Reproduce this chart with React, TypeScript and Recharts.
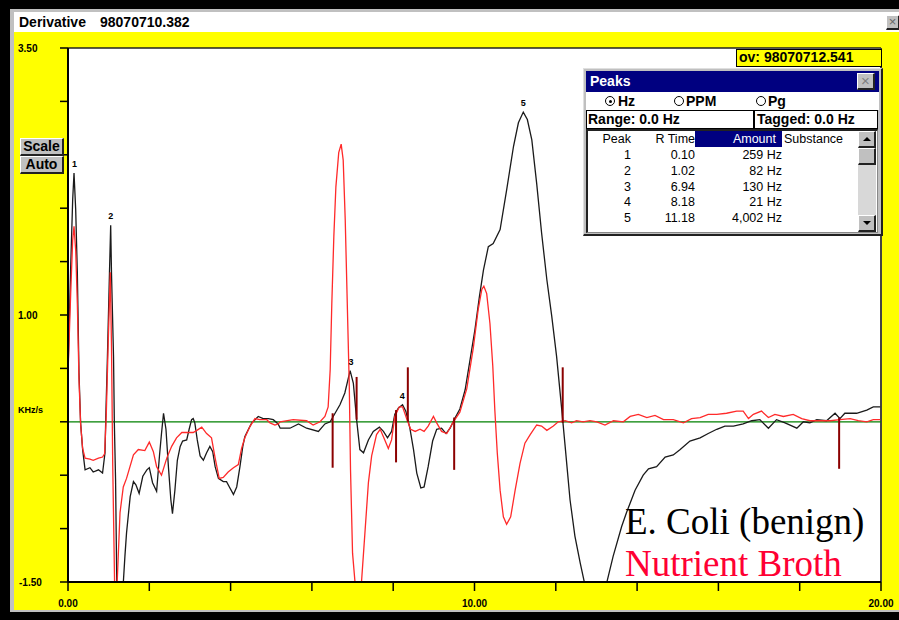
import React from 'react';
import { ComposedChart, Line, XAxis, YAxis, ReferenceLine, ReferenceDot } from 'recharts';

// ---- data ----
const ecoliX = [0, 0.066, 0.115, 0.148, 0.189, 0.23, 0.27, 0.31, 0.36, 0.42, 0.54, 0.62, 0.75, 0.85, 0.91, 0.93, 0.97, 1.02, 1.05, 1.07, 1.12, 1.14, 1.17, 1.2, 1.28, 1.36, 1.4, 1.44, 1.53, 1.61, 1.67, 1.75, 1.84, 1.94, 2.0, 2.08, 2.18, 2.25, 2.3, 2.35, 2.41, 2.47, 2.53, 2.57, 2.63, 2.69, 2.76, 2.82, 2.92, 2.98, 3.04, 3.08, 3.12, 3.18, 3.25, 3.33, 3.41, 3.49, 3.56, 3.62, 3.7, 3.82, 3.9, 3.97, 4.07, 4.15, 4.23, 4.3, 4.35, 4.44, 4.52, 4.6, 4.68, 4.8, 4.93, 5.05, 5.17, 5.22, 5.46, 5.67, 5.87, 6.16, 6.32, 6.45, 6.57, 6.69, 6.81, 6.94, 7.02, 7.1, 7.18, 7.27, 7.39, 7.51, 7.66, 7.76, 7.86, 7.96, 8.04, 8.13, 8.23, 8.31, 8.41, 8.5, 8.58, 8.68, 8.76, 8.86, 8.97, 9.07, 9.19, 9.3, 9.4, 9.5, 9.64, 9.77, 9.89, 10.01, 10.12, 10.22, 10.34, 10.46, 10.63, 10.79, 10.96, 11.08, 11.2, 11.3, 11.41, 11.53, 11.65, 11.78, 11.9, 12.02, 12.14, 12.23, 12.35, 12.47, 12.6, 12.69, 12.97, 13.27, 13.41, 13.62, 13.74, 13.83, 13.95, 14.15, 14.28, 14.48, 14.69, 14.89, 15.06, 15.3, 15.55, 15.75, 15.96, 16.16, 16.37, 16.61, 16.82, 17.02, 17.23, 17.43, 17.64, 17.93, 18.09, 18.25, 18.42, 18.66, 18.87, 18.99, 19.11, 19.4, 19.65, 19.81, 19.98];
const ecoliY = [0.46, 1.45, 2.08, 2.33, 1.99, 1.39, 0.46, -0.01, -0.26, -0.45, -0.43, -0.47, -0.45, -0.48, -0.29, 0.05, 0.61, 1.39, 1.84, 1.39, 0.61, -0.01, -0.54, -1.51, -2.0, -1.51, -1.26, -1.04, -0.7, -0.56, -0.59, -0.67, -0.51, -0.45, -0.43, -0.57, -0.65, -0.32, -0.11, 0.08, -0.07, -0.42, -0.73, -0.86, -0.64, -0.36, -0.23, -0.18, -0.17, -0.07, 0.02, 0.03, -0.01, -0.17, -0.32, -0.36, -0.29, -0.23, -0.28, -0.42, -0.53, -0.56, -0.56, -0.61, -0.68, -0.61, -0.42, -0.23, -0.14, -0.07, -0.01, 0.02, 0.05, 0.03, 0.03, 0.02, -0.02, -0.06, -0.06, -0.02, -0.06, -0.09, -0.02, 0.0, 0.08, 0.16, 0.27, 0.48, 0.36, 0.02, -0.26, -0.29, -0.17, -0.09, -0.05, -0.09, -0.15, -0.09, 0.07, 0.13, 0.16, 0.1, -0.06, -0.26, -0.48, -0.62, -0.61, -0.42, -0.18, -0.07, -0.06, -0.11, -0.06, 0.02, 0.12, 0.3, 0.58, 0.86, 1.17, 1.42, 1.64, 1.67, 1.8, 2.17, 2.58, 2.8, 2.9, 2.83, 2.64, 2.23, 1.77, 1.33, 0.99, 0.61, 0.14, -0.23, -0.73, -1.07, -1.32, -1.48, -1.95, -1.48, -1.26, -0.98, -0.85, -0.76, -0.64, -0.5, -0.44, -0.42, -0.33, -0.31, -0.26, -0.18, -0.15, -0.11, -0.07, -0.04, -0.04, -0.02, 0.01, 0.02, -0.06, 0.02, -0.01, -0.06, 0.0, -0.01, 0.02, 0.01, 0.08, 0.03, 0.08, 0.08, 0.11, 0.14, 0.14];

const brothX = [0, 0.066, 0.115, 0.148, 0.19, 0.23, 0.27, 0.31, 0.36, 0.42, 0.54, 0.62, 0.75, 0.85, 0.9, 0.94, 0.99, 1.04, 1.07, 1.1, 1.15, 1.21, 1.28, 1.36, 1.44, 1.61, 1.73, 1.89, 2.0, 2.1, 2.18, 2.3, 2.43, 2.55, 2.67, 2.8, 2.96, 3.08, 3.17, 3.29, 3.41, 3.53, 3.62, 3.72, 3.82, 3.94, 4.07, 4.19, 4.27, 4.35, 4.48, 4.6, 4.72, 4.89, 4.97, 5.09, 5.17, 5.22, 5.54, 5.87, 6.03, 6.2, 6.32, 6.4, 6.45, 6.49, 6.54, 6.59, 6.66, 6.72, 6.77, 6.82, 6.87, 6.92, 6.95, 7.0, 7.06, 7.14, 7.22, 7.31, 7.39, 7.47, 7.59, 7.68, 7.77, 7.88, 7.96, 8.04, 8.15, 8.23, 8.33, 8.43, 8.54, 8.66, 8.76, 8.86, 8.99, 9.07, 9.19, 9.32, 9.48, 9.64, 9.81, 9.97, 10.09, 10.18, 10.23, 10.3, 10.38, 10.45, 10.5, 10.56, 10.63, 10.71, 10.79, 10.89, 11.0, 11.12, 11.24, 11.37, 11.53, 11.65, 11.78, 11.94, 12.06, 12.23, 12.39, 12.51, 12.67, 12.84, 13.01, 13.21, 13.42, 13.66, 13.83, 14.03, 14.24, 14.44, 14.65, 14.89, 15.14, 15.34, 15.55, 15.75, 15.96, 16.2, 16.45, 16.61, 16.74, 16.86, 17.06, 17.23, 17.39, 17.6, 17.84, 18.05, 18.25, 18.5, 18.75, 18.99, 19.24, 19.44, 19.65, 19.81, 19.98];
const brothY = [0.45, 1.2, 1.7, 1.83, 1.6, 1.1, 0.4, -0.02, -0.25, -0.34, -0.35, -0.36, -0.34, -0.33, -0.3, 0.05, 0.75, 1.4, 0.7, -0.4, -1.6, -1.5, -0.85, -0.61, -0.53, -0.31, -0.26, -0.27, -0.19, -0.28, -0.42, -0.5, -0.34, -0.23, -0.15, -0.1, -0.1, -0.1, -0.08, -0.05, -0.11, -0.15, -0.34, -0.53, -0.52, -0.47, -0.43, -0.4, -0.25, -0.15, -0.04, 0.03, 0.02, 0.02, -0.01, -0.03, -0.02, 0.0, 0.02, 0.01, -0.03, 0.0, 0.05, 0.14, 0.49, 1.11, 1.74, 2.2, 2.52, 2.6, 2.45, 1.89, 1.11, 0.33, -0.45, -1.23, -1.5, -1.8, -1.5, -1.01, -0.57, -0.32, -0.12, -0.07, -0.15, -0.25, -0.17, 0.05, 0.14, 0.14, 0.03, -0.07, -0.09, -0.07, -0.09, -0.04, 0.05, -0.01, -0.09, -0.11, 0.0, 0.09, 0.31, 0.69, 1.05, 1.24, 1.27, 1.2, 0.92, 0.52, 0.11, -0.29, -0.64, -0.89, -0.96, -0.89, -0.64, -0.39, -0.2, -0.12, -0.03, -0.04, -0.08, -0.04, 0.0, 0.01, -0.01, 0.01, 0.0, 0.01, 0.0, -0.03, 0.01, 0.0, 0.05, 0.07, 0.04, 0.06, 0.02, 0.02, -0.01, 0.03, 0.04, 0.07, 0.07, 0.08, 0.1, 0.1, 0.03, 0.07, 0.1, 0.04, 0.07, 0.05, 0.07, 0.03, 0.01, 0.01, 0.01, 0.02, 0.03, 0.01, 0.0, 0.02, 0.02];

const markerX = [6.51, 7.1, 8.07, 8.36, 9.5, 12.17, 18.97];
const markerTop = [0.08, 0.42, 0.11, 0.51, 0.04, 0.51, 0.04];
const markerBottom = [-0.43, 0.02, -0.38, 0.0, -0.45, -0.01, -0.44];

const peakLabelX = [0.16, 1.05, 6.96, 8.22, 11.2];
const peakLabelY = [2.33, 1.84, 0.48, 0.16, 2.9];

const peakNums = ['1', '2', '3', '4', '5'];
const peakTimes = ['0.10', '1.02', '6.94', '8.18', '11.18'];
const peakAmounts = ['259 Hz', '82 Hz', '130 Hz', '21 Hz', '4,002 Hz'];

const yTicks = [-1.5, -1, -0.5, 0, 0.5, 1, 1.5, 2, 2.5, 3, 3.5];
const yTickLabels: Record<string, string> = { '3.5': '3.50', '1': '1.00', '-1.5': '-1.50' };
const xTicks = [0, 2, 4, 6, 8, 10, 12, 14, 16, 18, 20];
const xTickLabels: Record<string, string> = { '0': '0.00', '10': '10.00', '20': '20.00' };

const ecoliData = ecoliX.map((x, i) => ({ x, y: ecoliY[i] }));
const brothData = brothX.map((x, i) => ({ x, y: brothY[i] }));

const SANS = '"Liberation Sans", Arial, sans-serif';

const YTick = (props: any) => {
  const { y, payload } = props;
  const lbl = yTickLabels[String(payload.value)] || '';
  if (!lbl) return null;
  return (
    <text x={lbl.startsWith('-') ? 19 : 18} y={y} dy="0.35em" textAnchor="start" fontSize={10} fontWeight="bold" fontFamily={SANS} fill="#000">
      {lbl}
    </text>
  );
};

const XTick = (props: any) => {
  const { x, payload } = props;
  const lbl = xTickLabels[String(payload.value)] || '';
  if (!lbl) return null;
  return (
    <text x={x} y={603} dy="0.35em" textAnchor="middle" fontSize={10} fontWeight="bold" fontFamily={SANS} fill="#000">
      {lbl}
    </text>
  );
};

const abs = (left: number, top: number, width?: number, height?: number, extra: React.CSSProperties = {}): React.CSSProperties => ({
  position: 'absolute', left, top, width, height, boxSizing: 'border-box', ...extra,
});

const btnStyle: React.CSSProperties = {
  background: '#c0c0c0',
  borderTop: '1px solid #fff',
  borderLeft: '1px solid #fff',
  borderRight: '2px solid #222',
  borderBottom: '2px solid #222',
  fontFamily: SANS,
  fontWeight: 'bold',
  fontSize: 14,
  textAlign: 'center',
  color: '#000',
};

const Radio = ({ left, top, on }: { left: number; top: number; on: boolean }) => (
  <div style={abs(left, top, 10, 10, { borderRadius: '50%', border: '1px solid #000', background: '#fff' })}>
    {on && <div style={abs(2.5, 2.5, 3, 3, { borderRadius: '50%', background: '#000' })} />}
  </div>
);

const rowCenters = [155, 170.5, 186.5, 202, 218];

export default function App() {
  return (
    <div style={abs(0, 0, 899, 620, { background: '#000', overflow: 'hidden', fontFamily: SANS })}>
      {/* window frame */}
      <div style={abs(10, 9, 889, 603, { background: '#c0c0c0' })} />
      <div style={abs(14, 12, 885, 20, { background: '#fff' })} />
      <div style={abs(19, 12, 80, 20, { fontWeight: 'bold', fontSize: 14, lineHeight: '20px', color: '#000' })}>Derivative</div>
      <div style={abs(100, 12, 120, 20, { fontWeight: 'bold', fontSize: 14, lineHeight: '20px', color: '#000' })}>98070710.382</div>
      <div style={abs(886, 15, 14, 15, { ...btnStyle, fontSize: 13, lineHeight: '11px', color: '#666', fontWeight: 'normal' })}>×</div>
      <div style={abs(14, 32, 885, 578, { background: '#ffff00' })} />
      {/* plot background */}
      <div style={abs(68, 48, 813, 534, { background: '#fff' })} />

      <div style={abs(0, 0, 899, 620)}>
        <ComposedChart width={899} height={620} margin={{ top: 48, right: 18, bottom: 8, left: 8 }}>
          <XAxis
            type="number"
            dataKey="x"
            domain={[0, 20]}
            ticks={xTicks}
            interval={0}
            allowDataOverflow
            height={30}
            tickSize={9}
            axisLine={{ stroke: '#000', strokeWidth: 2 }}
            tickLine={{ stroke: '#000', strokeWidth: 1.5 }}
            tick={<XTick />}
          />
          <YAxis
            type="number"
            domain={[-1.5, 3.5]}
            ticks={yTicks}
            interval={0}
            allowDataOverflow
            width={60}
            tickSize={8}
            axisLine={{ stroke: '#000', strokeWidth: 2 }}
            tickLine={{ stroke: '#000', strokeWidth: 1.5 }}
            tick={<YTick />}
          />
          <ReferenceLine y={3.5} stroke="#222" strokeWidth={1.5} />
          <ReferenceLine x={20} stroke="#444" strokeWidth={2} />
          <ReferenceLine y={0} stroke="#008000" strokeWidth={1.2} />
          <Line data={ecoliData} dataKey="y" type="linear" stroke="#1a1a1a" strokeWidth={1.3} dot={false} activeDot={false} isAnimationActive={false} />
          <Line data={brothData} dataKey="y" type="linear" stroke="#ff2a2a" strokeWidth={1.3} dot={false} activeDot={false} isAnimationActive={false} />
          {markerX.map((mx, i) => (
            <ReferenceLine
              key={'m' + i}
              segment={[{ x: mx, y: markerTop[i] }, { x: mx, y: markerBottom[i] }]}
              stroke="#8b0000"
              strokeWidth={2}
            />
          ))}
          {peakLabelX.map((px, i) => (
            <ReferenceDot
              key={'p' + i}
              x={px}
              y={peakLabelY[i]}
              r={0}
              fill="none"
              stroke="none"
              label={{ value: peakNums[i], position: 'top', offset: 6, fontSize: 9, fontWeight: 'bold', fill: '#000', fontFamily: SANS }}
            />
          ))}
        </ComposedChart>
      </div>

      {/* y unit */}
      <div style={abs(18, 404, 40, 12, { fontSize: 9, fontWeight: 'bold', lineHeight: '12px', color: '#000' })}>KHz/s</div>

      {/* Scale / Auto buttons */}
      <div style={abs(20, 138, 44, 18, { ...btnStyle, lineHeight: '15px' })}>Scale</div>
      <div style={abs(20, 156, 44, 18, { ...btnStyle, lineHeight: '15px' })}>Auto</div>

      {/* ov box */}
      <div style={abs(736, 49, 146, 18, { background: '#ffff00', border: '1.5px solid #000', fontWeight: 'bold', fontSize: 14, lineHeight: '15px', paddingLeft: 2, color: '#000', whiteSpace: 'nowrap' })}>
        ov: 98070712.541
      </div>

      {/* Peaks window */}
      <div style={abs(583, 68, 300, 168, { background: '#c0c0c0', borderTop: '1px solid #dfdfdf', borderLeft: '1px solid #dfdfdf', borderRight: '2px solid #222', borderBottom: '2px solid #222' })} />
      <div style={abs(586, 71, 293, 21, { background: '#000080' })} />
      <div style={abs(590, 71, 80, 21, { color: '#fff', fontWeight: 'bold', fontSize: 14, lineHeight: '21px' })}>Peaks</div>
      <div style={abs(857, 73, 18, 17, { ...btnStyle, fontSize: 15, lineHeight: '13px', color: '#808080', fontWeight: 'normal' })}>×</div>
      <div style={abs(586, 92, 293, 18, { background: '#fff' })} />
      <Radio left={605} top={96} on={true} />
      <div style={abs(618, 92, 30, 18, { fontWeight: 'bold', fontSize: 14, lineHeight: '18px', color: '#000' })}>Hz</div>
      <Radio left={674} top={96} on={false} />
      <div style={abs(686, 92, 40, 18, { fontWeight: 'bold', fontSize: 14, lineHeight: '18px', color: '#000' })}>PPM</div>
      <Radio left={756} top={96} on={false} />
      <div style={abs(768, 92, 30, 18, { fontWeight: 'bold', fontSize: 14, lineHeight: '18px', color: '#000' })}>Pg</div>
      <div style={abs(586, 110, 168, 19, { background: '#fff', border: '1.5px solid #000', fontWeight: 'bold', fontSize: 14, lineHeight: '16px', paddingLeft: 1, color: '#000' })}>Range: 0.0 Hz</div>
      <div style={abs(754, 110, 124, 19, { background: '#fff', border: '1.5px solid #000', fontWeight: 'bold', fontSize: 14, lineHeight: '16px', paddingLeft: 2, color: '#000' })}>Tagged: 0.0 Hz</div>
      <div style={abs(586, 129, 292, 104, { background: '#fff', borderTop: '2px solid #222', borderLeft: '2px solid #222', borderRight: '1px solid #888', borderBottom: '1px solid #888' })} />
      <div style={abs(695, 131, 87, 16, { background: '#000080' })} />
      {[
        { t: 'Peak', r: 631, c: '#000' },
        { t: 'R Time', r: 695, c: '#000' },
        { t: 'Amount', r: 776, c: '#fff' },
      ].map((h, i) => (
        <div key={'h' + i} style={abs(h.r - 80, 131, 80, 16, { textAlign: 'right', fontSize: 12.5, lineHeight: '16px', color: h.c })}>{h.t}</div>
      ))}
      <div style={abs(784, 131, 70, 16, { fontSize: 12.5, lineHeight: '16px', color: '#000' })}>Substance</div>
      {peakNums.map((n, i) => (
        <React.Fragment key={'r' + i}>
          <div style={abs(571, rowCenters[i] - 8, 60, 16, { textAlign: 'right', fontSize: 12.5, lineHeight: '16px', color: '#000' })}>{n}</div>
          <div style={abs(635, rowCenters[i] - 8, 60, 16, { textAlign: 'right', fontSize: 12.5, lineHeight: '16px', color: '#000' })}>{peakTimes[i]}</div>
          <div style={abs(702, rowCenters[i] - 8, 80, 16, { textAlign: 'right', fontSize: 12.5, lineHeight: '16px', color: '#000' })}>{peakAmounts[i]}</div>
        </React.Fragment>
      ))}
      {/* scrollbar */}
      <div style={abs(858, 131, 18, 101, { background: '#d8d8d8' })} />
      <div style={abs(858, 131, 18, 17, { ...btnStyle })}>
        <div style={abs(4, 5, 0, 0, { borderLeft: '4px solid transparent', borderRight: '4px solid transparent', borderBottom: '4px solid #000' })} />
      </div>
      <div style={abs(858, 148, 18, 17, { ...btnStyle })} />
      <div style={abs(858, 215, 18, 17, { ...btnStyle })}>
        <div style={abs(4, 5, 0, 0, { borderLeft: '4px solid transparent', borderRight: '4px solid transparent', borderTop: '4px solid #000' })} />
      </div>

      {/* legend texts */}
      <div style={abs(625, 503, 260, 40, { fontFamily: '"Liberation Serif", "Times New Roman", serif', fontSize: 37, lineHeight: '37px', color: '#000', whiteSpace: 'nowrap' })}>E. Coli (benign)</div>
      <div style={abs(625, 545, 260, 40, { fontFamily: '"Liberation Serif", "Times New Roman", serif', fontSize: 37, lineHeight: '37px', color: '#ff0033', whiteSpace: 'nowrap' })}>Nutrient Broth</div>
    </div>
  );
}
